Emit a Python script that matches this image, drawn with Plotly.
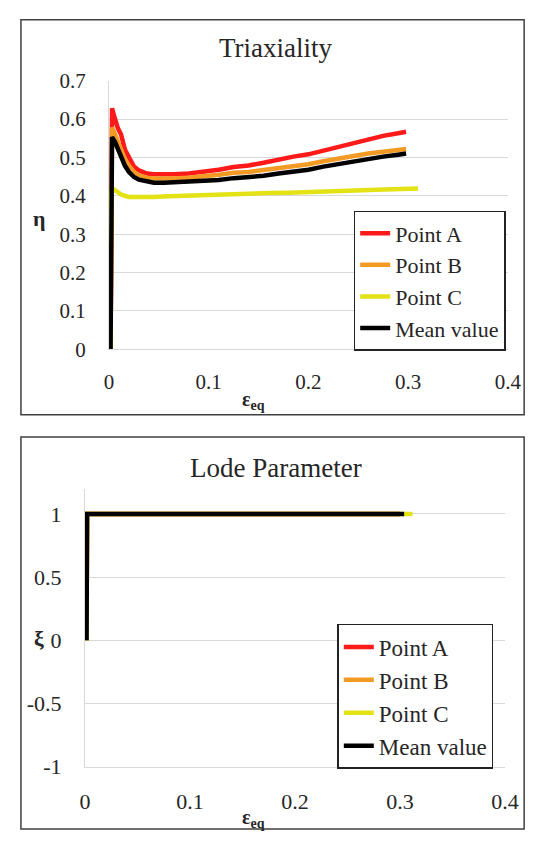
import plotly.graph_objects as go

# ---------------- data ----------------
names = ["Point A", "Point B", "Point C", "Mean value"]
colors = ["#ff1a1a", "#f39a25", "#e2e214", "#000000"]

# Triaxiality (eta vs equivalent strain)
x_tri = [0.0015, 0.002, 0.003, 0.006, 0.009, 0.012, 0.016, 0.020, 0.025, 0.030, 0.038,
         0.045, 0.055, 0.065, 0.080, 0.095, 0.110, 0.125, 0.140, 0.155, 0.170,
         0.185, 0.200, 0.215, 0.230, 0.245, 0.260, 0.275, 0.290, 0.298]
eta_A = [0, 0.620, 0.628, 0.600, 0.575, 0.560, 0.520, 0.500, 0.476, 0.466, 0.458,
         0.456, 0.455, 0.456, 0.458, 0.462, 0.468, 0.475, 0.479, 0.486, 0.495,
         0.502, 0.508, 0.518, 0.528, 0.538, 0.548, 0.556, 0.563, 0.567]
eta_B = [0, 0.570, 0.578, 0.560, 0.540, 0.520, 0.495, 0.478, 0.462, 0.453, 0.447,
         0.445, 0.444, 0.445, 0.447, 0.450, 0.455, 0.460, 0.462, 0.467, 0.472,
         0.477, 0.482, 0.490, 0.497, 0.504, 0.510, 0.515, 0.520, 0.522]
eta_mean = [0, 0.545, 0.553, 0.540, 0.520, 0.500, 0.478, 0.462, 0.449, 0.442, 0.437,
            0.434, 0.434, 0.435, 0.436, 0.438, 0.441, 0.446, 0.448, 0.452, 0.458,
            0.463, 0.468, 0.476, 0.483, 0.490, 0.496, 0.502, 0.507, 0.510]
x_tri_C = [0.0015, 0.002, 0.004, 0.008, 0.013, 0.020, 0.030, 0.045, 0.060, 0.080, 0.100,
           0.120, 0.140, 0.160, 0.180, 0.200, 0.220, 0.240, 0.260, 0.280, 0.300, 0.310]
eta_C = [0, 0.410, 0.418, 0.410, 0.402, 0.397, 0.396, 0.397, 0.399, 0.401, 0.403,
         0.405, 0.406, 0.407, 0.408, 0.409, 0.411, 0.413, 0.415, 0.417, 0.418, 0.419]

# Lode parameter (xi vs equivalent strain)
x_lode = [0.0015, 0.002, 0.05, 0.10, 0.15, 0.20, 0.25, 0.300]
x_lode_C = [0.0015, 0.002, 0.05, 0.10, 0.15, 0.20, 0.25, 0.312]
x_lode_mean = [0.0015, 0.002, 0.05, 0.10, 0.15, 0.20, 0.25, 0.304]
xi_A = [0, 1, 1, 1, 1, 1, 1, 1]
xi_B = [0, 1, 1, 1, 1, 1, 1, 1]
xi_C = [0, 1, 1, 1, 1, 1, 1, 1]
xi_mean = [0, 1, 1, 1, 1, 1, 1, 1]

x_ticks = [0, 0.1, 0.2, 0.3, 0.4]
x_ticktext = ["0", "0.1", "0.2", "0.3", "0.4"]
eta_ticks = [0, 0.1, 0.2, 0.3, 0.4, 0.5, 0.6, 0.7]
eta_ticktext = ["0", "0.1", "0.2", "0.3", "0.4", "0.5", "0.6", "0.7"]
xi_ticks = [-1, -0.5, 0, 0.5, 1]
xi_ticktext = ["-1", "-0.5", "0", "0.5", "1"]

# ---------------- figure ----------------
W, H = 542, 843
FONT = "Liberation Serif, Times New Roman, DejaVu Serif, serif"
GRID = "#d9d9d9"
TXT = "#262626"
LW = 4.5

fig = go.Figure()

top_series = [(x_tri, eta_A), (x_tri, eta_B), (x_tri_C, eta_C), (x_tri, eta_mean)]
for (xs, ys), n, c in zip(top_series, names, colors):
    fig.add_trace(go.Scatter(x=xs, y=ys, mode="lines", name=n,
                             line=dict(color=c, width=LW),
                             xaxis="x", yaxis="y", legend="legend"))

bot_series = [(x_lode, xi_A), (x_lode, xi_B), (x_lode_C, xi_C), (x_lode_mean, xi_mean)]
for (xs, ys), n, c in zip(bot_series, names, colors):
    fig.add_trace(go.Scatter(x=xs, y=ys, mode="lines", name=n,
                             line=dict(color=c, width=LW),
                             xaxis="x2", yaxis="y2", legend="legend2"))

def px_x(p):
    return p / W

def px_y(p):
    return (H - p) / H

axis_common = dict(showgrid=False, zeroline=False, ticks="", showline=True,
                   linecolor=GRID, linewidth=1)

fig.update_layout(
    width=W, height=H,
    margin=dict(l=0, r=0, t=0, b=0),
    paper_bgcolor="white", plot_bgcolor="white",
    font=dict(family=FONT, color=TXT),
    xaxis=dict(domain=[px_x(107), px_x(521)], range=[0, 0.4], anchor="y",
               tickvals=x_ticks, ticktext=x_ticktext,
               tickfont=dict(size=21, family=FONT, color=TXT),
               ticklabelstandoff=13, **axis_common),
    yaxis=dict(domain=[px_y(347.7), px_y(70.7)], range=[0, 0.7], anchor="x",
               tickvals=eta_ticks, ticktext=eta_ticktext,
               tickfont=dict(size=21, family=FONT, color=TXT),
               ticklabelstandoff=18, showgrid=True, gridcolor=GRID, gridwidth=1,
               zeroline=False, ticks="", showline=True, linecolor=GRID, linewidth=1),
    xaxis2=dict(domain=[px_x(82), px_x(518)], range=[0, 0.4], anchor="y2",
                tickvals=x_ticks, ticktext=x_ticktext,
                tickfont=dict(size=22, family=FONT, color=TXT),
                ticklabelstandoff=15, **axis_common),
    yaxis2=dict(domain=[px_y(777.7), px_y(491.3)], range=[-1, 1.2], anchor="x2",
                tickvals=xi_ticks, ticktext=xi_ticktext,
                tickfont=dict(size=22, family=FONT, color=TXT),
                ticklabelstandoff=18, showgrid=True, gridcolor=GRID, gridwidth=1,
                zeroline=False, ticks="", showline=True, linecolor=GRID, linewidth=1),
    legend=dict(x=px_x(361), y=px_y(205), xanchor="left", yanchor="top",
                bgcolor="white", bordercolor="#222222", borderwidth=1.5,
                font=dict(size=22, family=FONT, color=TXT), tracegroupgap=0,
                itemwidth=30),
    legend2=dict(x=px_x(344), y=px_y(630.7), xanchor="left", yanchor="top",
                 bgcolor="white", bordercolor="#222222", borderwidth=1.5,
                 font=dict(size=23, family=FONT, color=TXT), tracegroupgap=0,
                 itemwidth=30),
    showlegend=True,
)

# outer chart borders
for y0, y1 in [(415, 8), (842, 438)]:
    fig.add_shape(type="rect", xref="paper", yref="paper",
                  x0=px_x(15.5), x1=px_x(538), y0=px_y(y0), y1=px_y(y1),
                  line=dict(color="#404040", width=1.5), fillcolor="rgba(0,0,0,0)")

annos = [
    dict(text="Triaxiality", x=px_x(280), y=px_y(37), size=27),
    dict(text="Lode Parameter", x=px_x(280), y=px_y(470), size=27),
    dict(text="<b>ε<sub>eq</sub></b>", x=px_x(257.5), y=px_y(400), size=20),
    dict(text="<b>ε<sub>eq</sub></b>", x=px_x(257), y=px_y(831), size=20),
    dict(text="<b>η</b>", x=px_x(34.6), y=px_y(213), size=22),
    dict(text="<b>ξ</b>", x=px_x(34), y=px_y(646), size=22),
]
for a in annos:
    fig.add_annotation(text=a["text"], x=a["x"], y=a["y"], xref="paper", yref="paper",
                       xanchor="center", yanchor="middle", showarrow=False,
                       font=dict(size=a["size"], family=FONT, color=TXT))

fig.write_html("out.html")
